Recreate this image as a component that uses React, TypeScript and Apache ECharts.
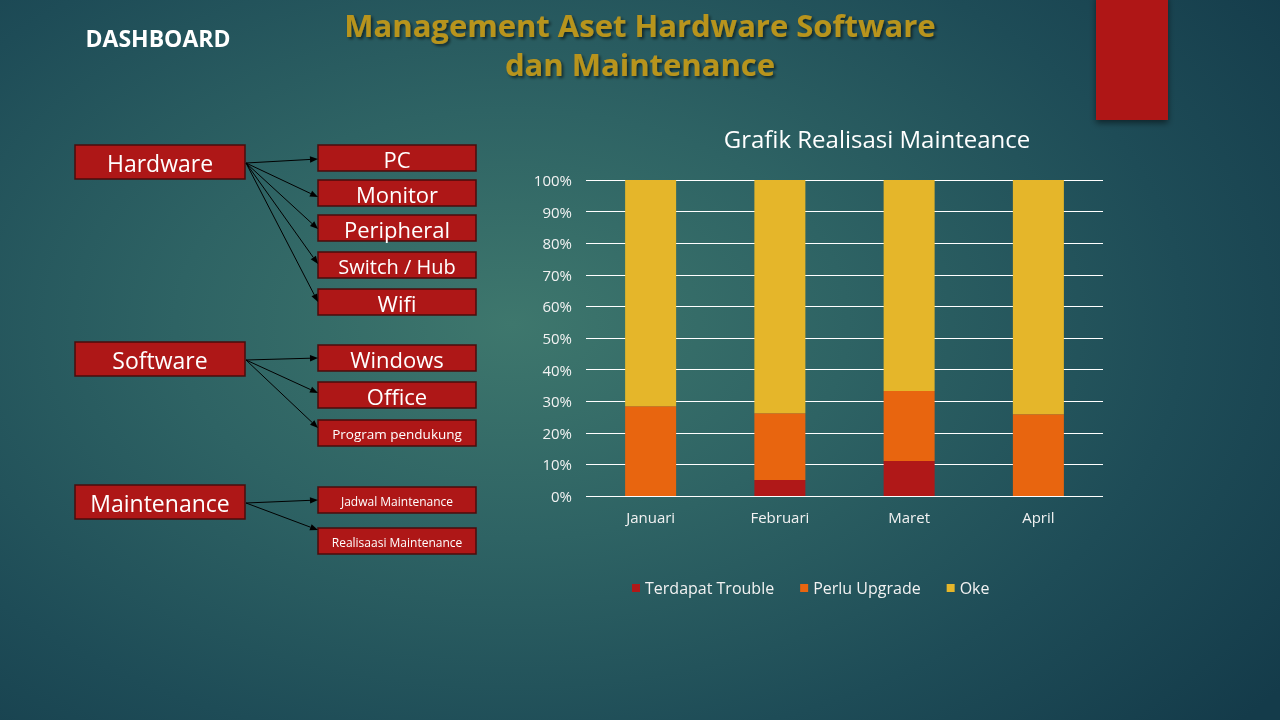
import React, { useEffect, useRef } from "react";
import * as echarts from "echarts";

const categories = ["Januari", "Februari", "Maret", "April"];
const seriesNames = ["Terdapat Trouble", "Perlu Upgrade", "Oke"];
const troubleValues = [0, 5.1, 11.1, 0];
const upgradeValues = [28.4, 21.1, 22.1, 25.9];
const okeValues = [71.6, 73.8, 66.8, 74.1];
const yTickFormat = "{value}%";

const chartTitle = "Grafik Realisasi Mainteance";
const pageTitleLines = ["Management Aset Hardware Software", "dan Maintenance"];
const dashboardLabel = "DASHBOARD";

const parentLabels = ["Hardware", "Software", "Maintenance"];
const hardwareItems = ["PC", "Monitor", "Peripheral", "Switch / Hub", "Wifi"];
const softwareItems = ["Windows", "Office", "Program pendukung"];
const maintenanceItems = ["Jadwal Maintenance", "Realisaasi Maintenance"];

const FONT = "'Open Sans', 'DejaVu Sans', sans-serif";
const BOX_FILL = "#AE1717";
const BOX_STROKE = "#4A0C0C";

function box(x: number, y: number, w: number, h: number, text: string, size: number) {
  return [
    {
      type: "rect",
      shape: { x, y, width: w, height: h },
      style: { fill: BOX_FILL, stroke: BOX_STROKE, lineWidth: 1.5 },
    },
    {
      type: "text",
      x: x + w / 2,
      y: y + h / 2 + 1,
      style: {
        text,
        fill: "#FFFFFF",
        font: `${size}px ${FONT}`,
        align: "center",
        verticalAlign: "middle",
      },
    },
  ];
}

function arrow(x1: number, y1: number, x2: number, y2: number) {
  const ang = Math.atan2(y2 - y1, x2 - x1);
  const len = 8;
  const half = 3.2;
  const bx = x2 - len * Math.cos(ang);
  const by = y2 - len * Math.sin(ang);
  const px = -Math.sin(ang) * half;
  const py = Math.cos(ang) * half;
  return [
    {
      type: "line",
      shape: { x1, y1, x2: bx, y2: by },
      style: { stroke: "#000000", lineWidth: 1 },
    },
    {
      type: "polygon",
      shape: { points: [[x2, y2], [bx + px, by + py], [bx - px, by - py]] },
      style: { fill: "#000000" },
    },
  ];
}

export default function App() {
  const ref = useRef<HTMLDivElement>(null);

  useEffect(() => {
    if (!ref.current) return;
    const chart = echarts.init(ref.current, null, { renderer: "svg" });

    const graphics: any[] = [];
    graphics.push({
      type: "rect",
      shape: { x: 1096, y: -5, width: 72, height: 125 },
      style: { fill: "#AF1515", shadowBlur: 6, shadowOffsetY: 3, shadowColor: "rgba(0,0,0,0.5)" },
    });
    graphics.push({
      type: "text",
      x: 158,
      y: 38,
      style: {
        text: dashboardLabel,
        fill: "#FFFFFF",
        font: `bold 23px ${FONT}`,
        align: "center",
        verticalAlign: "middle",
      },
    });
    pageTitleLines.forEach((t, i) => {
      graphics.push({
        type: "text",
        x: 640,
        y: 25 + i * 39,
        style: {
          text: t,
          fill: "#B8941F",
          font: `bold 31px ${FONT}`,
          align: "center",
          verticalAlign: "middle",
          textShadowColor: "rgba(0,0,0,0.55)",
          textShadowBlur: 3,
          textShadowOffsetX: 2,
          textShadowOffsetY: 2,
        },
      });
    });

    const parentBoxes = [
      { y: 145, items: hardwareItems, ys: [145, 180, 215, 252, 289], sizes: [22, 22, 22, 20, 22], starts: 163, ends: [159, 197, 229, 264, 302] },
      { y: 342, items: softwareItems, ys: [345, 382, 420], sizes: [22, 22, 13.5], starts: 360, ends: [358, 393, 428] },
      { y: 485, items: maintenanceItems, ys: [487, 528], sizes: [12, 12], starts: 503, ends: [500, 530] },
    ];
    parentBoxes.forEach((p, pi) => {
      graphics.push(...box(75, p.y, 170, 34, parentLabels[pi], 23));
      p.items.forEach((it, i) => {
        graphics.push(...box(318, p.ys[i], 158, 26, it, p.sizes[i]));
        graphics.push(...arrow(246, p.starts, 318, p.ends[i]));
      });
    });

    const colors = ["#B01818", "#E8650F", "#E5B62A"];
    const dataSets = [troubleValues, upgradeValues, okeValues];

    chart.setOption({
      animation: false,
      backgroundColor: "transparent",
      textStyle: { fontFamily: FONT },
      title: {
        text: chartTitle,
        left: 872,
        top: 121,
        textAlign: "center",
        textStyle: { color: "#FFFFFF", fontSize: 24, fontWeight: "normal", fontFamily: FONT },
      },
      legend: {
        data: seriesNames,
        left: 627,
        top: 575,
        itemWidth: 8,
        itemHeight: 8,
        itemGap: 26,
        icon: "rect",
        textStyle: { color: "#F2F2F2", fontSize: 16, fontFamily: FONT },
      },
      grid: { left: 586, right: 177, top: 180, bottom: 224, containLabel: false },
      xAxis: {
        type: "category",
        data: categories,
        axisLine: { show: false },
        axisTick: { show: false },
        axisLabel: { color: "#F2F2F2", fontSize: 15, margin: 13, fontFamily: FONT },
      },
      yAxis: {
        type: "value",
        min: 0,
        max: 100,
        interval: 10,
        axisLabel: { formatter: yTickFormat, color: "#F2F2F2", fontSize: 15, margin: 14, fontFamily: FONT },
        axisLine: { show: false },
        axisTick: { show: false },
        splitLine: { lineStyle: { color: "#FFFFFF", width: 1 } },
      },
      series: seriesNames.map((name, i) => ({
        name,
        type: "bar",
        stack: "total",
        barWidth: 51,
        data: dataSets[i],
        itemStyle: { color: colors[i] },
      })),
      graphic: graphics,
    });

    return () => chart.dispose();
  }, []);

  return (
    <div
      style={{
        position: "fixed",
        left: 0,
        top: 0,
        width: 1280,
        height: 720,
        background:
          "radial-gradient(ellipse 75% 85% at 40% 45%, #3E776D 0%, #2E6364 35%, #1E4C57 70%, #143B4A 100%)",
      }}
    >
      <div ref={ref} style={{ width: 1280, height: 720 }} />
    </div>
  );
}
